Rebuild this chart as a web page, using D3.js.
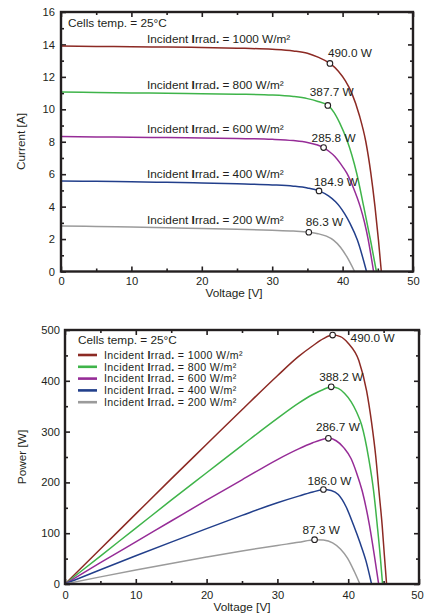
<!DOCTYPE html>
<html>
<head>
<meta charset="utf-8">
<script src="https://cdn.jsdelivr.net/npm/d3@7"></script>
<style>
  body { margin: 0; background: #fff; }
  svg { display: block; font-family: "Liberation Sans", Arial, sans-serif; }
</style>
</head>
<body>
<svg id="chart" width="424" height="616"></svg>
<script>
// irradiance levels, one curve each
var irradiance = [1000, 800, 600, 400, 200];

// I-V curves, [voltage V, current A]
var iv1000 = [[0,13.9],[5,13.88],[10,13.86],[15,13.84],[20,13.81],[25,13.77],[30,13.7],[33,13.6],[35,13.46],[36.5,13.22],[38.2,12.83],[39.4,12.35],[40.4,11.75],[41.3,11.0],[42.4,9.6],[43.3,8.0],[44.0,6.1],[44.6,4.0],[45.1,1.9],[45.5,0]];
var iv800  = [[0,11.06],[5,11.04],[10,11.01],[15,10.99],[20,10.96],[25,10.93],[30,10.88],[33,10.79],[35,10.66],[36.5,10.48],[37.9,10.24],[38.8,9.8],[39.6,9.15],[40.6,8.12],[41.3,7.2],[42.0,6.06],[43.0,4.0],[44.0,1.85],[44.8,0]];
var iv600  = [[0,8.32],[5,8.3],[10,8.28],[15,8.26],[20,8.23],[25,8.2],[30,8.15],[33,8.07],[35,7.96],[36.3,7.82],[37.3,7.64],[38.1,7.4],[38.9,7.09],[39.7,6.65],[40.6,6.06],[41.5,5.2],[42.5,4.0],[43.1,3.05],[43.65,1.94],[44.4,0]];
var iv400  = [[0,5.58],[5,5.56],[10,5.53],[15,5.5],[20,5.46],[25,5.41],[30,5.34],[33,5.26],[35,5.15],[36.65,4.97],[38.0,4.66],[39.0,4.3],[39.6,4.0],[40.3,3.55],[41.05,2.97],[42.1,1.94],[43.4,0]];
var iv200  = [[0,2.81],[5,2.78],[10,2.74],[15,2.7],[20,2.65],[25,2.6],[30,2.54],[33,2.49],[35.2,2.42],[36.5,2.33],[37.7,2.18],[38.7,1.94],[39.7,1.5],[40.6,0.91],[41.7,0]];

// P-V curves, [voltage V, power W]
var pv1000 = [[0,0],[5,69],[10,138],[15,207],[20,275],[25,343],[30,410],[33,448],[35,469],[36.5,483],[37.8,490],[38.9,487],[40.0,474],[41.5,440],[42.6,380],[43.3,318],[43.9,250],[44.35,182],[44.8,115],[45.1,58],[45.42,0]];
var pv800  = [[0,0],[5,55],[10,110],[15,165],[20,219],[25,273],[30,326],[33,356],[35,373],[36.5,383],[37.6,388.2],[38.6,385],[39.5,375],[40.4,359],[41.2,338],[41.9,313],[42.9,247],[43.6,182],[44.1,116],[44.55,51],[44.85,0]];
var pv600  = [[0,0],[5,42],[10,83],[15,124],[20,165],[25,205],[30,245],[33,266],[35,278],[36.2,284],[37.2,286.7],[38.3,282],[39.4,268],[40.4,247],[41.2,218],[42.0,182],[43.0,116],[43.75,51],[44.3,0]];
var pv400  = [[0,0],[5,28],[10,55.5],[15,82.5],[20,109],[25,135],[30,160],[33,173],[35,181],[36.5,186],[37.6,184],[38.6,176],[39.7,152],[40.75,116],[41.7,80],[42.5,46],[43.3,0]];
var pv200  = [[0,0],[5,14],[10,27.5],[15,40.5],[20,53],[25,65],[30,76],[33,82],[35.25,87.3],[36.5,86.5],[37.8,81],[38.9,69],[39.9,51],[40.85,25],[41.65,0]];

// maximum power points
var topMppV = [38.2, 37.9, 37.3, 36.65, 35.2];
var topMppI = [12.83, 10.24, 7.64, 4.97, 2.42];
var topMppLabel = ["490.0 W", "387.7 W", "285.8 W", "184.9 W", "86.3 W"];
var botMppV = [37.8, 37.6, 37.2, 36.5, 35.25];
var botMppP = [490.0, 388.2, 286.7, 186.0, 87.3];
var botMppLabel = ["490.0 W", "388.2 W", "286.7 W", "186.0 W", "87.3 W"];

var ivCurves = [iv1000, iv800, iv600, iv400, iv200];
var pvCurves = [pv1000, pv800, pv600, pv400, pv200];

var colors = ["#8c2a24", "#3fb44a", "#962c97", "#223f8b", "#9b9b9b"];
var ink = "#231f20";
var fontFam = '"Liberation Sans", Arial, sans-serif';
var labelSize = 11.8;

// label offsets from the marker (layout only)
var topLabelOffset = [[-2,-6.5],[-18,-9],[-12,-6],[-5,-4.5],[-3,-6]];
var botLabelOffset = [[18,6.5],[-12,-6],[-12.5,-7.5],[-16,-5],[-12,-5.5]];

var svg = d3.select("#chart");

function addAxis(g, axis, transform) {
  var a = g.append("g").attr("transform", transform).call(axis);
  a.attr("font-family", fontFam).attr("font-size", 11.2);
  a.select(".domain").remove();
  a.selectAll("line").attr("stroke", ink).attr("stroke-width", 1.6);
  a.selectAll("text").attr("fill", ink);
  return a;
}

function panel(box, yMax, yStep) {
  var x = d3.scaleLinear().domain([0, 50]).range([box.l, box.r]);
  var y = d3.scaleLinear().domain([0, yMax]).range([box.b, box.t]);
  var g = svg.append("g");

  var xMaj = d3.range(0, 51, 10), xMin = d3.range(5, 50, 10);
  var yMaj = d3.range(0, yMax + yStep / 2, yStep);
  var yMin = d3.range(yStep / 2, yMax, yStep);

  var xb = addAxis(g, d3.axisBottom(x).tickValues(xMaj).tickSize(-5).tickPadding(box.xpad), "translate(0," + box.b + ")");
  // keep the last label inside the page
  xb.selectAll("text").filter(function(d) { return d === 50; }).attr("dx", box.lastDx);
  addAxis(g, d3.axisBottom(x).tickValues(xMin).tickSize(-3).tickFormat(""), "translate(0," + box.b + ")");
  addAxis(g, d3.axisTop(x).tickValues(xMaj).tickSize(-5).tickFormat(""), "translate(0," + box.t + ")");
  addAxis(g, d3.axisTop(x).tickValues(xMin).tickSize(-3).tickFormat(""), "translate(0," + box.t + ")");
  addAxis(g, d3.axisLeft(y).tickValues(yMaj).tickSize(-5).tickPadding(box.ypad), "translate(" + box.l + ",0)");
  addAxis(g, d3.axisLeft(y).tickValues(yMin).tickSize(-3).tickFormat(""), "translate(" + box.l + ",0)");
  addAxis(g, d3.axisRight(y).tickValues(yMaj).tickSize(-5).tickFormat(""), "translate(" + box.r + ",0)");
  addAxis(g, d3.axisRight(y).tickValues(yMin).tickSize(-3).tickFormat(""), "translate(" + box.r + ",0)");

  return { g: g, x: x, y: y };
}

function irradText(sel, irr) {
  sel.append("tspan").text("Incident ");
  sel.append("tspan").attr("font-weight", "bold").text("I");
  sel.append("tspan").text("rrad");
  sel.append("tspan").attr("font-weight", "bold").text(".");
  sel.append("tspan").text(" = " + irr + " W/m\u00b2");
}

function drawCurves(p, curves) {
  var line = d3.line()
    .x(function(d) { return p.x(d[0]); })
    .y(function(d) { return p.y(d[1]); })
    .curve(d3.curveMonotoneX);
  p.g.append("g").selectAll("path")
    .data(curves)
    .enter().append("path")
    .attr("d", line)
    .attr("fill", "none")
    .attr("stroke", function(d, i) { return colors[i]; })
    .attr("stroke-width", 1.5);
}

function drawMarkers(p, vs, vals, labels, offsets) {
  var m = p.g.append("g");
  vs.forEach(function(v, i) {
    var cx = p.x(v), cy = p.y(vals[i]);
    m.append("circle")
      .attr("cx", cx).attr("cy", cy).attr("r", 2.8)
      .attr("fill", "#fff").attr("stroke", ink).attr("stroke-width", 1.1);
    m.append("text")
      .attr("x", cx + offsets[i][0]).attr("y", cy + offsets[i][1])
      .attr("font-size", labelSize).attr("fill", ink)
      .text(labels[i]);
  });
}

function frame(p, box) {
  p.g.append("rect")
    .attr("x", box.l).attr("y", box.t)
    .attr("width", box.r - box.l).attr("height", box.b - box.t)
    .attr("fill", "none").attr("stroke", ink).attr("stroke-width", 2.4);
}

// ---- top: current vs voltage
var topBox = { l: 61, r: 413, t: 12, b: 271.5, xpad: 6, ypad: 6, lastDx: 0 };
var ivPanel = panel(topBox, 16, 2);
drawCurves(ivPanel, ivCurves);

ivPanel.g.append("text").attr("x", 68).attr("y", 27)
  .attr("font-size", labelSize).attr("fill", ink).text("Cells temp. = 25\u00b0C");

ivCurves.forEach(function(c, i) {
  var t = ivPanel.g.append("text")
    .attr("x", 147).attr("y", ivPanel.y(c[4][1]) - 5)
    .attr("font-size", labelSize).attr("fill", ink);
  irradText(t, irradiance[i]);
});

drawMarkers(ivPanel, topMppV, topMppI, topMppLabel, topLabelOffset);
frame(ivPanel, topBox);

ivPanel.g.append("text").attr("x", 234).attr("y", 297)
  .attr("text-anchor", "middle").attr("font-size", labelSize).attr("fill", ink).text("Voltage [V]");
ivPanel.g.append("text").attr("transform", "translate(25,141.5) rotate(-90)")
  .attr("text-anchor", "middle").attr("font-size", labelSize).attr("fill", ink).text("Current [A]");

// ---- bottom: power vs voltage
var botBox = { l: 65, r: 419, t: 330, b: 584, xpad: 7, ypad: 5, lastDx: -2 };
var pvPanel = panel(botBox, 500, 100);
drawCurves(pvPanel, pvCurves);
drawMarkers(pvPanel, botMppV, botMppP, botMppLabel, botLabelOffset);

var legendSize = 10.6;
var legend = pvPanel.g.append("g");
legend.append("text").attr("x", 78).attr("y", 343.5)
  .attr("font-size", labelSize).attr("fill", ink).text("Cells temp. = 25\u00b0C");
irradiance.forEach(function(irr, i) {
  var ly = 355 + i * 11.8;
  legend.append("line")
    .attr("x1", 78).attr("x2", 97).attr("y1", ly).attr("y2", ly)
    .attr("stroke", colors[i]).attr("stroke-width", 2.6);
  var t = legend.append("text").attr("x", 104).attr("y", ly + 3.7)
    .attr("font-size", legendSize).attr("letter-spacing", 0.38)
    .attr("fill", ink);
  irradText(t, irr);
});

frame(pvPanel, botBox);

pvPanel.g.append("text").attr("x", 242).attr("y", 611)
  .attr("text-anchor", "middle").attr("font-size", labelSize).attr("fill", ink).text("Voltage [V]");
pvPanel.g.append("text").attr("transform", "translate(26,457) rotate(-90)")
  .attr("text-anchor", "middle").attr("font-size", labelSize).attr("fill", ink).text("Power [W]");
</script>
</body>
</html>
